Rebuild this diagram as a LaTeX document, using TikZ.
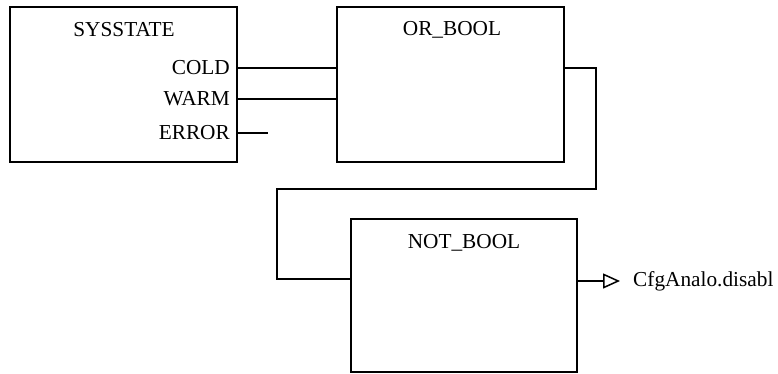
\documentclass[tikz,border=0pt]{standalone}
\usepackage{fontspec}
\setmainfont{Liberation Serif}
\usetikzlibrary{arrows.meta}
\begin{document}
\begin{tikzpicture}[x=1pt,y=-1pt,
  fb/.style={draw=black,line width=2.9pt,minimum width=227pt,minimum height=155pt,inner sep=0pt,fill=white},
  wire/.style={draw=black,line width=2.8pt},
  lbl/.style={font=\fontsize{21.3}{23}\selectfont,inner sep=0pt}]
\useasboundingbox (0,0) rectangle (778,374);
% blocks
\node[fb] (sys) at (123.5,84.5) {};
\node[fb] (orb) at (450.5,84.5) {};
\node[fb,minimum width=226pt,minimum height=153pt] (notb) at (464,295.5) {};
% titles
\node[lbl] (tsys) at (124,30) {SYSSTATE};
\node[lbl] (tor) at (452,30) {OR\_BOOL};
\node[lbl] (tnot) at (464,243) {NOT\_BOOL};
% port labels
\node[lbl,anchor=east] (cold) at (230,68) {COLD};
\node[lbl,anchor=east] (warm) at (230,99) {WARM};
\node[lbl,anchor=east] (err) at (230,133) {ERROR};
% ports
\coordinate (sysC) at (sys.east |- cold);
\coordinate (sysW) at (sys.east |- warm);
\coordinate (sysE) at (sys.east |- err);
\coordinate (errEnd) at (268,133);
\coordinate (orC) at (orb.west |- cold);
\coordinate (orW) at (orb.west |- warm);
\coordinate (orOut) at (orb.east |- cold);
\coordinate (notIn) at (notb.west |- 0,279);
\coordinate (notOut) at (notb.east |- 0,281);
\coordinate (outEnd) at (620,281);
% connectors
\draw[wire] (sysC) -- (orC);
\draw[wire] (sysW) -- (orW);
\draw[wire] (sysE) -- (errEnd);
\draw[wire] (orOut) -- (596,68) -- (596,189) -- (277,189) -- (277,279) -- (notIn);
\draw[line width=2.4pt,-{Triangle[open,length=17pt,width=15pt,line width=1.5pt]}] (notOut) -- (outEnd);
\node[lbl,anchor=west] (out) at (633,281) {CfgAnalo.disabl};
\end{tikzpicture}
\end{document}
